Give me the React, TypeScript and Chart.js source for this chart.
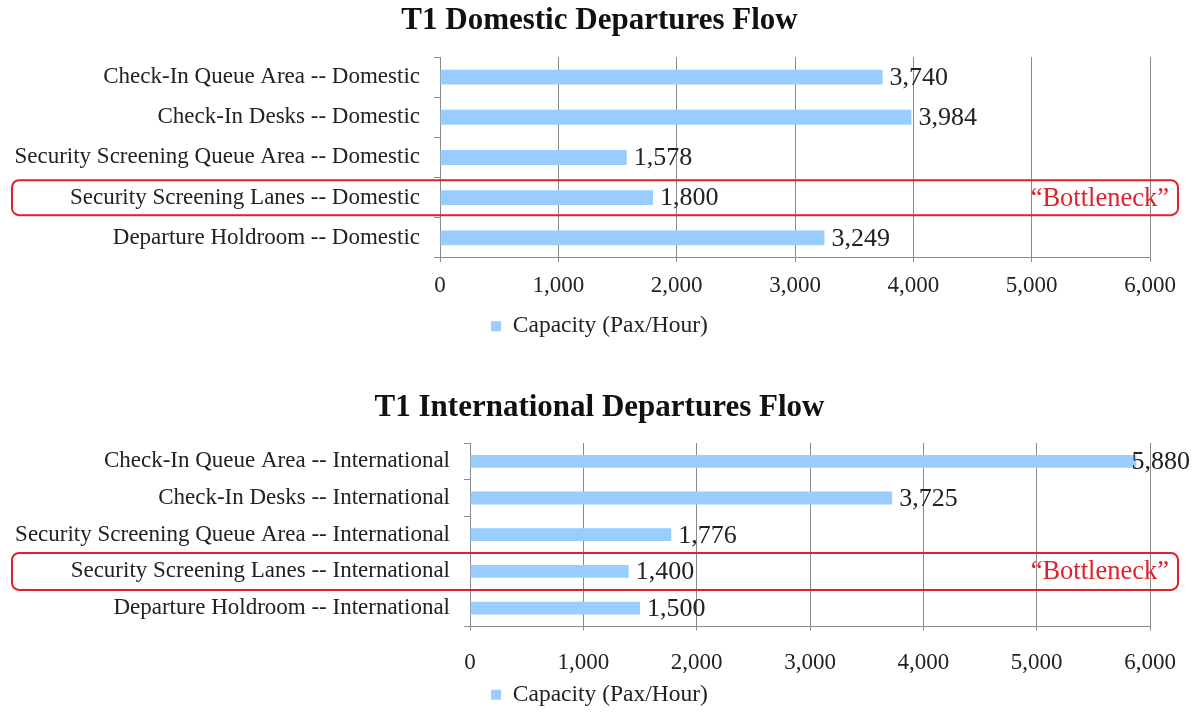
import React, { useEffect, useRef } from 'react';
import { Chart, registerables } from 'chart.js';

Chart.register(...registerables);

const domesticTitle = 'T1 Domestic Departures Flow';
const domesticCategories = [
  'Check-In Queue Area -- Domestic',
  'Check-In Desks -- Domestic',
  'Security Screening Queue Area -- Domestic',
  'Security Screening Lanes -- Domestic',
  'Departure Holdroom -- Domestic',
];
const domesticValues = [3740, 3984, 1578, 1800, 3249];
const domesticBottleneckIndex = 3;

const internationalTitle = 'T1 International Departures Flow';
const internationalCategories = [
  'Check-In Queue Area -- International',
  'Check-In Desks -- International',
  'Security Screening Queue Area -- International',
  'Security Screening Lanes -- International',
  'Departure Holdroom -- International',
];
const internationalValues = [5880, 3725, 1776, 1400, 1500];
const internationalBottleneckIndex = 3;

const seriesLabel = 'Capacity (Pax/Hour)';
const bottleneckText = '\u201CBottleneck\u201D';
const axisMin = 0;
const axisMax = 6000;
const axisStep = 1000;

const FONT = "'Liberation Serif', 'Times New Roman', serif";
const BAR_COLOR = '#99CCFF';
const GRID_COLOR = '#8a8a8a';
const RED = '#e0202a';

const fmt = (v: number) => Number(v).toLocaleString('en-US');

type Layout = {
  height: number;
  yAxisWidth: number;
  titlePadTop: number;
  titlePadBottom: number;
  xTickPad: number;
  xShrink: number;
  legendPad: number;
  padBottom: number;
  boxHeight: number;
  barPct: number;
};

function BarPanel(props: {
  title: string;
  categories: string[];
  values: number[];
  bottleneckIndex: number;
  layout: Layout;
}) {
  const ref = useRef<HTMLCanvasElement | null>(null);
  useEffect(() => {
    if (!ref.current) return;
    const { layout, bottleneckIndex } = props;
    const overlay = {
      id: 'overlay',
      afterDatasetsDraw(chart: any) {
        const ctx = chart.ctx;
        const meta = chart.getDatasetMeta(0);
        ctx.save();
        ctx.font = `26px ${FONT}`;
        ctx.fillStyle = '#222';
        ctx.textAlign = 'left';
        ctx.textBaseline = 'middle';
        meta.data.forEach((bar: any, i: number) => {
          const txt = fmt(props.values[i]);
          const w = ctx.measureText(txt).width;
          const x = Math.min(bar.x + 7, 1190 - w);
          ctx.fillText(txt, x, bar.y + 1);
        });
        ctx.restore();
      },
      afterDraw(chart: any) {
        const ctx = chart.ctx;
        const y = chart.scales.y.getPixelForValue(bottleneckIndex);
        const h = layout.boxHeight;
        const x0 = 12;
        const x1 = 1178;
        ctx.save();
        ctx.strokeStyle = RED;
        ctx.lineWidth = 2;
        ctx.beginPath();
        (ctx as any).roundRect(x0, y - h / 2, x1 - x0, h, 7);
        ctx.stroke();
        ctx.font = `26.5px ${FONT}`;
        ctx.fillStyle = RED;
        ctx.textAlign = 'right';
        ctx.textBaseline = 'middle';
        ctx.fillText(bottleneckText, 1169, y + 1);
        ctx.restore();
      },
    };
    const chart = new Chart(ref.current, {
      type: 'bar',
      data: {
        labels: props.categories,
        datasets: [
          {
            label: seriesLabel,
            data: props.values,
            backgroundColor: BAR_COLOR,
            borderWidth: 0,
            categoryPercentage: 1,
            barPercentage: layout.barPct,
          },
        ],
      },
      options: {
        indexAxis: 'y',
        responsive: false,
        animation: false,
        layout: { padding: { left: 0, right: 0, top: 0, bottom: layout.padBottom } },
        scales: {
          x: {
            type: 'linear',
            min: axisMin,
            max: axisMax,
            ticks: {
              stepSize: axisStep,
              color: '#222',
              font: { family: FONT, size: 23 },
              padding: layout.xTickPad,
              callback: (v: any) => fmt(v),
            },
            grid: { color: GRID_COLOR, lineWidth: 1, tickLength: 4 },
            border: { color: GRID_COLOR },
            afterFit: (scale: any) => {
              scale.height = scale.height - layout.xShrink;
            },
          },
          y: {
            type: 'category',
            ticks: {
              color: '#222',
              font: { family: FONT, size: 23 },
              padding: 14,
            },
            grid: { offset: true, drawOnChartArea: false, color: GRID_COLOR, tickLength: 6 },
            border: { color: GRID_COLOR },
            afterFit: (scale: any) => {
              scale.width = layout.yAxisWidth;
            },
          },
          yRight: {
            type: 'category',
            position: 'right',
            display: true,
            ticks: { display: false },
            grid: { display: false, drawTicks: false },
            border: { display: false },
            afterFit: (scale: any) => {
              scale.width = 49;
            },
          },
        },
        plugins: {
          title: {
            display: true,
            text: props.title,
            color: '#111',
            font: { family: FONT, size: 31, weight: 'bold', lineHeight: 1.2 },
            padding: { top: layout.titlePadTop, bottom: layout.titlePadBottom },
          },
          legend: {
            display: true,
            position: 'bottom',
            labels: {
              color: '#222',
              font: { family: FONT, size: 23.5 },
              boxWidth: 10,
              boxHeight: 10,
              padding: layout.legendPad,
            },
          },
          tooltip: { enabled: false },
        },
      },
      plugins: [overlay],
    } as any);
    return () => chart.destroy();
  }, []);
  return <canvas ref={ref} width={1199} height={props.layout.height} style={{ display: 'block' }} />;
}

export default function App() {
  return (
    <div
      style={{
        position: 'absolute',
        left: 0,
        top: 0,
        width: 1199,
        height: 712,
        overflow: 'hidden',
        background: '#fff',
      }}
    >
      <div style={{ position: 'absolute', left: 0, top: 0 }}>
        <BarPanel
          title={domesticTitle}
          categories={domesticCategories}
          values={domesticValues}
          bottleneckIndex={domesticBottleneckIndex}
          layout={{
            height: 350,
            yAxisWidth: 440,
            titlePadTop: 2,
            titlePadBottom: 17.8,
            xTickPad: 10.5,
            xShrink: 13,
            legendPad: 17,
            padBottom: 2,
            boxHeight: 35,
            barPct: 0.37,
          }}
        />
      </div>
      <div style={{ position: 'absolute', left: 0, top: 372 }}>
        <BarPanel
          title={internationalTitle}
          categories={internationalCategories}
          values={internationalValues}
          bottleneckIndex={internationalBottleneckIndex}
          layout={{
            height: 345,
            yAxisWidth: 470,
            titlePadTop: 17,
            titlePadBottom: 16.8,
            xTickPad: 19,
            xShrink: 21,
            legendPad: 8,
            padBottom: 0.5,
            boxHeight: 37,
            barPct: 0.35,
          }}
        />
      </div>
    </div>
  );
}
